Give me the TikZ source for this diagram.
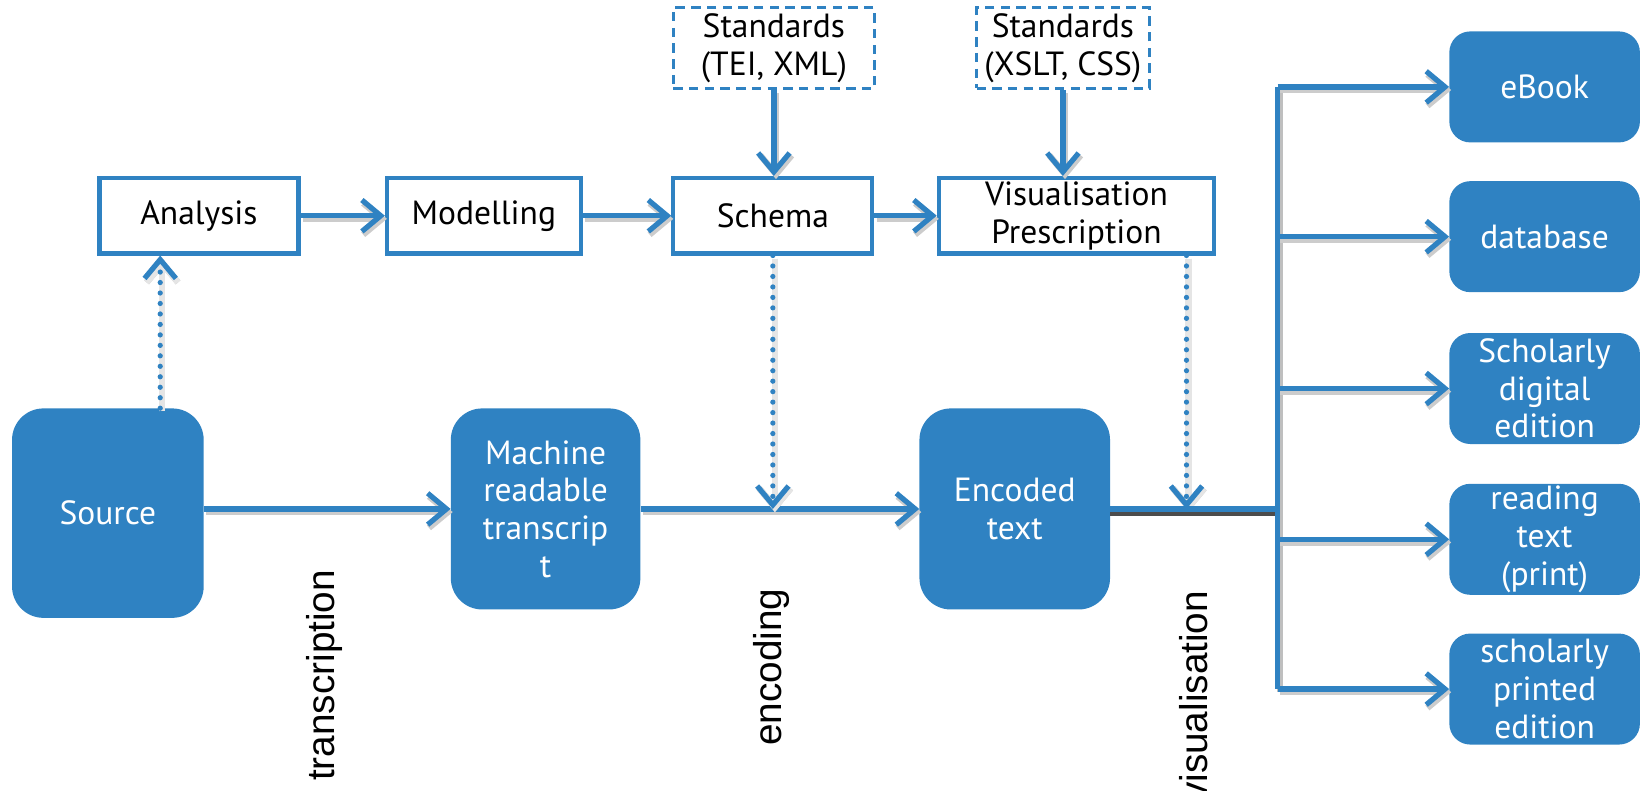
\documentclass[tikz,border=0pt]{standalone}
\usepackage{fontspec}
\setmainfont{PT Sans}
\newfontfamily\labelfont{Liberation Sans}
\usepackage{tikz}
\usetikzlibrary{arrows.meta}
\usetikzlibrary{positioning}
\definecolor{flowblue}{RGB}{47,130,194}

\begin{document}
\begin{tikzpicture}
    [
    x=1pt, y=-1pt,
    boxtext/.style={font=\fontsize{32}{36}\selectfont, align=center, inner sep=0pt},
    plain/.style={boxtext, draw=flowblue, line width=4pt, fill=white, minimum height=72pt},
    standard/.style={boxtext, draw=flowblue, line width=3pt, dash pattern=on 9pt off 6pt, minimum height=77pt},
    block/.style={boxtext, fill=flowblue, text=white, rounded corners=30pt},
    outlet/.style={block, rounded corners=20pt, minimum width=182pt, minimum height=106pt},
    shadow/.style={preaction={draw=#1, solid, line width=6pt, transform canvas={shift={(2pt,-3pt)}}}},
    link/.style={draw=flowblue, line width=5pt, shadow=black!20,
      -{Straight Barb[length=18pt,width=30pt]}},
    hint/.style={link, shadow=black!10, dash pattern=on 0pt off 10pt, line cap=round},
    trunkline/.style={draw=flowblue, line width=5pt, shadow=#1},
    steplabel/.style={rotate=90, font=\labelfont\fontsize{37}{40}\selectfont},
    ]
    \useasboundingbox (0,0) rectangle (1568,755);

    \node (stdtei) at (739,46) [standard, minimum width=192pt] {Standards\\(TEI, XML)};
    \node (stdxslt) at (1015,46) [standard, minimum width=165pt] {Standards\\(XSLT, CSS)};
    \node (analysis) at (190,206) [plain, minimum width=190pt] {Analysis};
    \node (modelling) at (462,206) [plain, minimum width=185pt] {Modelling};
    \node (schema) at (738,206) [plain, minimum width=190pt] {Schema};
    \node (visprescr) at (1028,206) [plain, minimum width=263pt] {Visualisation\\Prescription};
    \node (source) at (103,490) [block, minimum width=183pt, minimum height=200pt] {Source};
    \node (machine) at (521,486) [block, minimum width=181pt, minimum height=192pt] {Machine\\readable\\transcrip\\t};
    \node (encoded) at (969,486) [block, minimum width=182pt, minimum height=192pt] {Encoded\\text};
    \foreach \name/\y/\txt in {ebook/83/eBook, database/226/database,
        digital/371/{Scholarly\\digital\\edition}, reading/515/{reading\\text\\(print)},
        printed/658/{scholarly\\printed\\edition}}
      \node (\name) at (1475,\y) [outlet] {\txt};

    \draw [link] (analysis) -- (modelling);
    \draw [link] (modelling) -- (schema);
    \draw [link] (schema) -- (visprescr);
    \draw [link] (stdtei.south) -- (stdtei.south |- schema.north);
    \draw [link] (stdxslt.south) -- (stdxslt.south |- visprescr.north);
    \draw [link] (source.east |- machine.west) -- (machine.west);
    \draw [link] (machine) -- (encoded);

    \draw [hint] ([xshift=50pt]source.north) -- ([xshift=50pt]source.north |- analysis.south);
    \draw [hint] (schema.south) -- (schema.south |- machine.east);
    \draw [hint] ([xshift=105pt]visprescr.south) -- ([xshift=105pt]visprescr.south |- encoded.east);

    \coordinate (fork) at (1220,486);
    \draw [trunkline=black!70, preaction={draw=black!70, line width=7pt, transform canvas={shift={(0pt,-3pt)}}}] (encoded.east) -- (fork);
    \draw [trunkline=black!25] (fork |- ebook.west) -- (fork |- printed.west);
    \foreach \name in {ebook,database,digital,reading,printed}
      \draw [link] (fork |- \name.west) -- (\name.west);

    \node (transcr) at (310,645) [steplabel] {transcription};
    \node (enc) at (737,637) [steplabel] {encoding};
    \node (vis) at (1140,665) [steplabel] {visualisation};
\end{tikzpicture}
\end{document}
